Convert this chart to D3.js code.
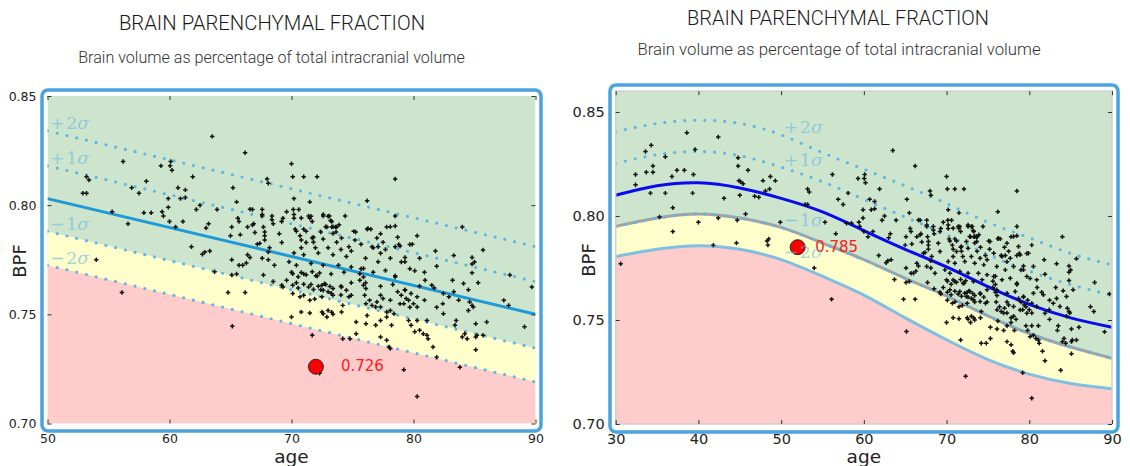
<!DOCTYPE html>
<html>
<head>
<meta charset="utf-8">
<script src="https://cdn.jsdelivr.net/npm/d3@7"></script>
<style>
  body { margin: 0; background: #fff; }
  svg { display: block; }
</style>
</head>
<body>
<svg id="chart" width="1130" height="466"></svg>
<script>
// ---- dati ----

// pannello sinistro: modello lineare (età 50-90)
const leftAges = [50, 90];
const leftMean = [0.803, 0.750];
const leftPlus2 = [0.834, 0.781];
const leftPlus1 = [0.818, 0.765];
const leftMinus1 = [0.788, 0.7345];
const leftMinus2 = [0.7725, 0.719];

// pannello destro: modello non lineare (età 30-90)
const rightAges = [30, 35, 40, 45, 50, 55, 60, 65, 70, 75, 80, 85, 90];
const rightMean = [0.810, 0.8145, 0.816, 0.8135, 0.8085, 0.802, 0.793, 0.784, 0.7755, 0.766, 0.7575, 0.751, 0.7465];
const rightPlus2 = [0.8405, 0.8445, 0.846, 0.8445, 0.839, 0.8305, 0.8225, 0.8145, 0.806, 0.797, 0.7895, 0.782, 0.7765];
const rightPlus1 = [0.8253, 0.8295, 0.831, 0.829, 0.8235, 0.8165, 0.808, 0.7995, 0.791, 0.7815, 0.7735, 0.767, 0.762];
const rightMinus1 = [0.795, 0.799, 0.801, 0.799, 0.7945, 0.787, 0.779, 0.770, 0.7615, 0.752, 0.7435, 0.737, 0.7316];
const rightMinus2 = [0.7805, 0.784, 0.7857, 0.784, 0.779, 0.771, 0.762, 0.751, 0.7405, 0.731, 0.724, 0.7195, 0.717];

// paziente [età, BPF]
const leftPatient = [72, 0.726];
const rightPatient = [52, 0.785];

// etichette sigma
const sigmaSigns = ['+', '+', '\u2212', '\u2212'];
const sigmaNums = ['2', '1', '1', '2'];

// soggetti di riferimento [età, BPF] (stesso campione nei due pannelli)
const subjects = [
  [30.6,0.777],[32.4,0.820],[32.4,0.815],[33.6,0.831],[33.7,0.821],[34.3,0.834],[34.5,0.824],[34.5,0.821],
  [34.2,0.811],[36.0,0.8285],[36.0,0.811],[36.8,0.819],[36.9,0.804],[36.9,0.7925],[35.3,0.7995],[37.4,0.822],
  [38.3,0.822],[38.6,0.840],[39.3,0.811],[39.4,0.820],[39.6,0.832],[40.0,0.797],[41.8,0.786],[42.4,0.838],
  [42.4,0.799],[43.1,0.8085],[44.6,0.787],[44.7,0.798],[44.8,0.828],[44.8,0.824],[44.9,0.817],[45.1,0.8165],
  [45.4,0.8155],[45.0,0.810],[46.0,0.822],[45.7,0.801],[46.8,0.8095],[47.3,0.809],[47.8,0.817],[48.1,0.812],
  [48.7,0.819],[48.6,0.813],[49.3,0.817],[48.3,0.788],[48.4,0.786],[48.5,0.789],
  [49.9,0.797],[53.2,0.813],[53.4,0.8115],[52.9,0.8055],[53.2,0.8055],[54.0,0.775],[55.3,0.797],[56.2,0.820],
  [56.6,0.7915],[56.9,0.808],[57.5,0.8055],[57.9,0.7965],[58.1,0.811],[58.5,0.7965],[59.3,0.818],[59.4,0.797],
  [59.5,0.795],[59.9,0.799],[59.9,0.803],[60.05,0.818],[60.2,0.816],[60.1,0.820],[60.0,0.7925],[60.5,0.790],
  [60.7,0.808],[60.9,0.803],[61.1,0.7925],[61.3,0.807],[61.3,0.8035],[61.9,0.813],[61.8,0.781],[62.2,0.798],
  [62.5,0.800],[62.7,0.7775],[62.9,0.7785],[63.3,0.779],[63.0,0.7895],[63.2,0.7915],[63.5,0.8315],[63.9,0.798],
  [65.2,0.808],[66.2,0.824],[65.5,0.8015],[65.6,0.794],[65.0,0.786],[65.1,0.790],[65.1,0.775],[65.7,0.7925],
  [65.8,0.7865],[66.0,0.7725],[65.7,0.7725],[66.3,0.7735],[66.4,0.790],[66.6,0.776],[66.8,0.798],[66.9,0.7915],
  [67.0,0.7875],[67.4,0.7825],[67.6,0.798],[67.6,0.795],[67.7,0.790],[67.8,0.786],[67.8,0.784],[68.0,0.812],
  [68.1,0.810],[68.4,0.795],[68.5,0.7915],[68.1,0.7785],[68.1,0.775],
  [56.1,0.760],[65.15,0.7445],[64.8,0.760],[66.2,0.760],[63.7,0.7695],[65.1,0.768],[65.5,0.7685],[67.7,0.768],
  [68.5,0.765],
  [70.0,0.819],[70.1,0.813],[71.0,0.813],[72.1,0.813],[69.3,0.794],[70.2,0.803],[70.15,0.798],[70.6,0.798],
  [70.2,0.794],[69.6,0.797],[69.2,0.7925],[70.3,0.789],[70.4,0.788],[71.0,0.789],[71.2,0.788],[70.7,0.786],
  [70.8,0.784],[71.7,0.785],[71.8,0.783],[71.4,0.795],[71.5,0.794],[71.7,0.7925],[71.5,0.8015],[72.6,0.795],
  [72.9,0.790],[73.3,0.790],[73.6,0.790],[73.1,0.795],[73.2,0.793],[73.4,0.787],[73.7,0.790],[73.9,0.791],
  [74.4,0.795],[74.1,0.785],[73.7,0.783],[74.7,0.781],[75.1,0.788],[75.2,0.784],[74.9,0.779],[75.9,0.771],
  [76.2,0.802],[76.2,0.789],[76.5,0.789],[77.0,0.785],[77.1,0.781],[77.3,0.778],[76.6,0.781],[77.8,0.790],
  [78.5,0.7905],[78.5,0.812],[78.5,0.795],[77.5,0.783],[78.5,0.781],[78.8,0.782],[79.7,0.782],[79.3,0.776],
  [79.0,0.774],[80.3,0.786],[80.1,0.770],[81.8,0.779],[81.9,0.772],[83.3,0.777],[84.0,0.790],[84.8,0.776],
  [85.0,0.774],[84.8,0.773],[85.7,0.7795],
  [70.1,0.7686],[70.55,0.7672],[70.8,0.7692],[71.2,0.7681],[71.7,0.7695],[72.1,0.7676],[72.3,0.7689],
  [70.1,0.7633],[70.55,0.7621],[71.0,0.7638],[71.4,0.7625],[71.8,0.7614],[72.2,0.7629],[72.5,0.7633],
  [72.7,0.764],[73.15,0.7628],[73.4,0.7618],[69.6,0.7656],[69.3,0.7625],[69.2,0.7633],
  [70.1,0.7595],[70.7,0.758],[71.0,0.7587],[71.5,0.7564],[71.9,0.757],[72.5,0.758],
  [72.6,0.761],[73.0,0.7603],[73.4,0.7587],[70.8,0.7511],[71.5,0.7506],[70.0,0.7488],
  [72.5,0.7511],[72.6,0.7503],[73.0,0.7518],[73.3,0.751],[73.4,0.750],[72.9,0.7488],
  [74.1,0.7511],[74.2,0.7541],[74.1,0.7625],[74.5,0.761],[74.9,0.7587],[74.7,0.758],
  [75.6,0.7656],[75.9,0.7633],[76.1,0.7618],[75.6,0.7686],[75.9,0.7671],
  [76.0,0.7587],[76.4,0.7564],[77.0,0.7557],[77.3,0.7534],[76.6,0.7541],[76.9,0.7534],[76.1,0.7549],
  [75.3,0.7465],[76.2,0.7495],[76.1,0.7457],[75.3,0.7411],[77.3,0.7587],[77.5,0.7572],
  [77.8,0.7488],[77.8,0.7511],[78.4,0.7503],[78.1,0.7518],
  [77.3,0.7396],[77.8,0.7381],[78.1,0.7343],[78.0,0.735],[76.9,0.745],[77.3,0.7472],[78.2,0.745],
  [78.5,0.7671],[78.7,0.7603],[79.0,0.7587],[79.3,0.761],[79.4,0.7572],[79.8,0.7595],[80.3,0.758],
  [79.2,0.7549],[79.6,0.7564],[80.0,0.7549],[80.3,0.7534],[80.3,0.7472],[79.6,0.7472],[79.8,0.745],
  [80.1,0.742],[80.5,0.7427],[80.8,0.7411],[81.1,0.7404],[81.2,0.7388],[81.6,0.735],[81.9,0.7304],
  [82.45,0.7503],[82.4,0.7549],[81.5,0.7633],[81.1,0.7472],[83.2,0.7656],[84.1,0.7641],
  [83.5,0.7472],[83.4,0.745],[84.0,0.7396],[84.2,0.7411],[84.4,0.7388],[83.8,0.7258],
  [84.6,0.7557],[84.8,0.7541],[84.9,0.7534],[84.5,0.7518],[84.8,0.769],[85.1,0.7457],
  [85.1,0.7396],[85.2,0.7404],[85.1,0.7338],[86.0,0.7465],[85.7,0.7404],
  [87.4,0.7564],[87.8,0.7541],[89.1,0.7443],[89.7,0.7625],[87.9,0.768],
  [80.95,0.7656],[82.45,0.7595],[83.3,0.7603],[79.2,0.7246],[80.3,0.7124],
  [71.7,0.7404],[74.2,0.7388],[74.8,0.7388],[72.3,0.723],
  [70.2,0.7957],[70.8,0.7941],[71.6,0.7949],[72.6,0.7957],[73.0,0.7949],[73.3,0.7925],[72.8,0.7901],[73.4,0.7901],
  [72.4,0.7877],[73.65,0.7877],[71.8,0.7853],[72.6,0.7845],[71.2,0.7829],[70.8,0.7805],[71.96,0.7805],[73.0,0.7805],
  [74.05,0.7797],[70.2,0.7781],[71.0,0.7773],[72.2,0.7781],[73.4,0.7773],[74.5,0.7765],[69.8,0.7741],[70.4,0.7725],
  [71.6,0.7733],[72.6,0.7725],[73.85,0.7725],[74.9,0.7717],[70.0,0.7693],[71.0,0.7685],[72.0,0.7677],[73.25,0.7685],
  [74.3,0.7693],[70.4,0.7645],[71.6,0.7637],[72.8,0.7637],[74.05,0.7629],[74.9,0.7645],[73.25,0.7597],[74.05,0.7589],
  [72.4,0.7613],
  [75.26,0.7877],[76.27,0.7893],[77.3,0.7869],[78.1,0.7901],[78.7,0.7853],[75.7,0.7821],[76.7,0.7805],[77.7,0.7797],
  [78.9,0.7813],[79.9,0.7821],[76.07,0.7757],[77.1,0.7741],[78.1,0.7757],[79.3,0.7741],[80.5,0.7757],[75.7,0.7709],
  [76.7,0.7693],[77.7,0.7701],[78.5,0.7677],[79.7,0.7709],[80.9,0.7693],[76.07,0.7645],[77.3,0.7629],[78.3,0.7637],
  [79.3,0.7613],[80.5,0.7629],[81.7,0.7621],[78.1,0.7565],[78.9,0.7548],[79.7,0.7532],[80.9,0.7565],[81.9,0.7532],
  [82.9,0.758],[83.7,0.7565],[84.5,0.7613],[85.3,0.7645],
  [66.6,0.7981],[67.6,0.7957],[68.4,0.7933],[66.8,0.7909],[67.8,0.7877],[69.0,0.7869],[67.2,0.7821],[68.2,0.7805],
  [69.2,0.7829],[66.4,0.7773],[67.6,0.7757],[68.6,0.7725]
];

// ---- impostazioni dei due pannelli ----
const panels = [
  {
    id: 'left',
    ages: leftAges, mean: leftMean, plus2: leftPlus2, plus1: leftPlus1, minus1: leftMinus1, minus2: leftMinus2,
    patient: leftPatient,
    curve: d3.curveLinear,
    xDomain: [50, 90], yDomain: [0.70, 0.85],
    xRange: [47.5, 535.5], yRange: [423.5, 96],
    xTicks: [50, 60, 70, 80, 90], yTicks: [0.70, 0.75, 0.80, 0.85],
    frame: { x: 42, y: 90, w: 499, h: 341 },
    titleX: 272, titleY: 30, titleSize: 20.3,
    subX: 271.5, subY: 62.5, subSize: 16.1,
    tickSize: 12.5, xPad: 11, labelDx: 25,
    ylabelX: 20, ylabelY: 261,
    labelIdx: 0, meanColor: '#1c9ad8', style: 'linear', spine: false
  },
  {
    id: 'right',
    ages: rightAges, mean: rightMean, plus2: rightPlus2, plus1: rightPlus1, minus1: rightMinus1, minus2: rightMinus2,
    patient: rightPatient,
    curve: d3.curveNatural,
    xDomain: [30, 90], yDomain: [0.70, 0.86],
    xRange: [615.7, 1112], yRange: [424, 91.2],
    xTicks: [30, 40, 50, 60, 70, 80, 90], yTicks: [0.70, 0.75, 0.80, 0.85],
    frame: { x: 610, y: 85, w: 508, h: 347 },
    titleX: 838, titleY: 25, titleSize: 20,
    subX: 839, subY: 55, subSize: 16.8,
    tickSize: 14.5, xPad: 9.5, labelDx: 17.5,
    ylabelX: 589, ylabelY: 260,
    labelIdx: 4, meanColor: '#0a0aee', style: 'model', spine: true
  }
];

const svg = d3.select('#chart');

const GREEN = '#cce5cc', YELLOW = '#ffffcc', PINK = '#ffcccc';
const DOT_BLUE = '#5db6e6';

function drawPanel(p) {
  const x = d3.scaleLinear().domain(p.xDomain).range(p.xRange);
  const y = d3.scaleLinear().domain(p.yDomain).range(p.yRange);
  const [x0, x1] = p.xRange;
  const [yb, yt] = p.yRange;
  const g = svg.append('g').attr('class', 'panel-' + p.id);

  // Titolo e sottotitolo
  g.append('text')
    .attr('x', p.titleX).attr('y', p.titleY)
    .attr('text-anchor', 'middle')
    .style('font-family', 'Roboto, "Liberation Sans", sans-serif')
    .style('font-weight', 300)
    .style('font-size', p.titleSize + 'px')
    .style('fill', '#1a1a1a')
    .text('BRAIN PARENCHYMAL FRACTION');

  g.append('text')
    .attr('x', p.subX).attr('y', p.subY)
    .attr('text-anchor', 'middle')
    .style('font-family', 'Roboto, "Liberation Sans", sans-serif')
    .style('font-weight', 300)
    .style('font-size', p.subSize + 'px')
    .style('fill', '#333')
    .text('Brain volume as percentage of total intracranial volume');

  // Area del grafico ritagliata
  const clipId = 'clip-' + p.id;
  svg.append('clipPath').attr('id', clipId)
    .append('rect')
    .attr('x', x0).attr('y', yt)
    .attr('width', x1 - x0).attr('height', yb - yt);

  const plot = g.append('g').attr('clip-path', `url(#${clipId})`);

  const pts = vals => p.ages.map((a, i) => [a, vals[i]]);
  const line = d3.line().x(d => x(d[0])).y(d => y(d[1])).curve(p.curve);
  const area = d3.area().x(d => x(d[0])).y0(yb).y1(d => y(d[1])).curve(p.curve);

  // Fasce: verde sopra -1σ, giallo tra -1σ e -2σ, rosa sotto -2σ
  plot.append('rect')
    .attr('x', x0).attr('y', yt)
    .attr('width', x1 - x0).attr('height', yb - yt)
    .style('fill', GREEN);
  plot.append('path').datum(pts(p.minus1)).attr('d', area).style('fill', YELLOW);
  plot.append('path').datum(pts(p.minus2)).attr('d', area).style('fill', PINK);

  const dotted = vals => plot.append('path')
    .datum(pts(vals))
    .attr('d', line)
    .style('fill', 'none')
    .style('stroke', DOT_BLUE)
    .style('stroke-width', 3.2)
    .style('stroke-linecap', 'round')
    .style('stroke-dasharray', '0,10');

  if (p.style === 'model') {
    // -1σ grigio pieno con puntini, -2σ azzurro pieno
    plot.append('path').datum(pts(p.minus1)).attr('d', line)
      .style('fill', 'none').style('stroke', '#a3a3a3').style('stroke-width', 3);
    plot.append('path').datum(pts(p.minus2)).attr('d', line)
      .style('fill', 'none').style('stroke', '#80bfe0').style('stroke-width', 3);
    dotted(p.minus1);
  } else {
    dotted(p.minus1);
    dotted(p.minus2);
  }
  dotted(p.plus1);
  dotted(p.plus2);

  // Linea media
  plot.append('path').datum(pts(p.mean)).attr('d', line)
    .style('fill', 'none').style('stroke', p.meanColor).style('stroke-width', 3);

  // Soggetti
  const cross = d3.symbol().type(d3.symbolCross).size(11);
  plot.selectAll('.subject')
    .data(subjects.filter(d => d[0] >= p.xDomain[0]))
    .enter()
    .append('path')
    .attr('class', 'subject')
    .attr('transform', d => `translate(${x(d[0])},${y(d[1])})`)
    .attr('d', cross)
    .style('fill', '#111');

  // Paziente
  g.append('circle')
    .attr('cx', x(p.patient[0])).attr('cy', y(p.patient[1]))
    .attr('r', 7.5)
    .style('fill', '#ff0000')
    .style('stroke', '#2a2a2a')
    .style('stroke-width', 1);

  g.append('text')
    .attr('x', x(p.patient[0]) + p.labelDx)
    .attr('y', y(p.patient[1]))
    .attr('dy', '0.3em')
    .style('font-family', '"DejaVu Sans", sans-serif')
    .style('font-size', '15px')
    .style('fill', '#ff1a1a')
    .text(d3.format('.3f')(p.patient[1]));

  // Etichette sigma, appoggiate sopra le rispettive linee
  const sigmaVals = [p.plus2, p.plus1, p.minus1, p.minus2];
  sigmaVals.forEach((vals, i) => {
    const t = g.append('text')
      .attr('x', x(p.ages[p.labelIdx]) + 2.5)
      .attr('y', y(vals[p.labelIdx]) - 1.5)
      .style('font-family', '"DejaVu Serif", serif')
      .style('font-size', '17.5px')
      .style('fill', '#6bb8e8')
      .style('opacity', 0.6);
    t.append('tspan').text(sigmaSigns[i]);
    t.append('tspan').attr('dx', 1.5).text(sigmaNums[i]);
    t.append('tspan').style('font-style', 'italic').text('\u03c3');
  });

  // Bordo grigio (solo pannello destro)
  if (p.spine) {
    g.append('rect')
      .attr('x', x0).attr('y', yt)
      .attr('width', x1 - x0).attr('height', yb - yt)
      .style('fill', 'none')
      .style('stroke', '#cfcfcf')
      .style('stroke-width', 1.5);
  }

  // Assi con tacche interne
  const styleAxis = sel => {
    sel.select('.domain').remove();
    sel.selectAll('line').style('stroke', '#333');
    sel.selectAll('text')
      .style('font-family', '"DejaVu Sans", sans-serif')
      .style('font-size', p.tickSize + 'px')
      .style('fill', '#222');
  };

  g.append('g').attr('transform', `translate(0,${yb})`)
    .call(d3.axisBottom(x).tickValues(p.xTicks).tickSize(-4).tickPadding(p.xPad).tickFormat(d3.format('d')))
    .call(styleAxis);
  g.append('g').attr('transform', `translate(0,${yt})`)
    .call(d3.axisTop(x).tickValues(p.xTicks).tickSize(-4).tickFormat(''))
    .call(styleAxis);
  g.append('g').attr('transform', `translate(${x0},0)`)
    .call(d3.axisLeft(y).tickValues(p.yTicks).tickSize(-4).tickPadding(11).tickFormat(d3.format('.2f')))
    .call(styleAxis);
  g.append('g').attr('transform', `translate(${x1},0)`)
    .call(d3.axisRight(y).tickValues(p.yTicks).tickSize(-4).tickFormat(''))
    .call(styleAxis);

  // Titoli degli assi
  g.append('text')
    .attr('x', (x0 + x1) / 2).attr('y', 463)
    .attr('text-anchor', 'middle')
    .style('font-family', '"DejaVu Sans", sans-serif')
    .style('font-size', '18.5px')
    .style('fill', '#222')
    .text('age');

  g.append('text')
    .attr('transform', `translate(${p.ylabelX},${p.ylabelY}) rotate(-90)`)
    .attr('text-anchor', 'middle')
    .attr('dy', '0.35em')
    .style('font-family', '"DejaVu Sans", sans-serif')
    .style('font-size', '18px')
    .style('fill', '#222')
    .text('BPF');

  // Cornice blu arrotondata
  g.append('rect')
    .attr('x', p.frame.x).attr('y', p.frame.y)
    .attr('width', p.frame.w).attr('height', p.frame.h)
    .attr('rx', 6)
    .style('fill', 'none')
    .style('stroke', '#4aa3df')
    .style('stroke-width', 3.5);
}

panels.forEach(drawPanel);
</script>
</body>
</html>
